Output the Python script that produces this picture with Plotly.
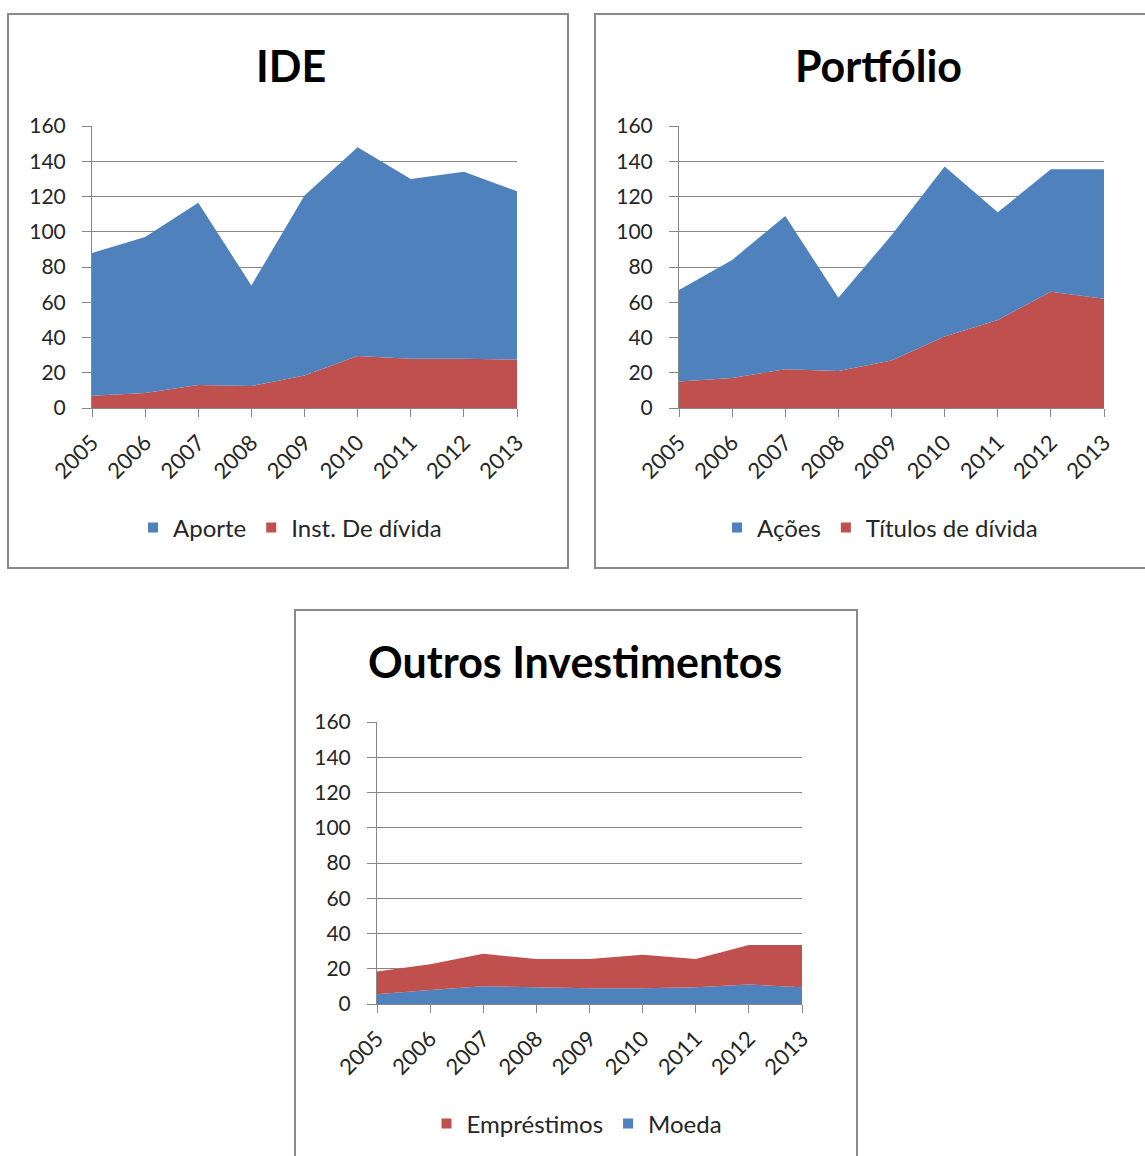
import plotly.graph_objects as go

W, H = 1145, 1156

years = [2005, 2006, 2007, 2008, 2009, 2010, 2011, 2012, 2013]
year_labels = [str(y) for y in years]
y_ticks = [0, 20, 40, 60, 80, 100, 120, 140, 160]

# IDE
ide_inst_divida = [7, 8.5, 13, 12.5, 18.5, 29.5, 28, 28, 27.5]
ide_aporte = [81, 88.5, 103.5, 57, 102, 118.5, 102, 106, 95.5]

# Portfólio
port_titulos = [15, 17, 22, 21, 27, 40.5, 50, 66, 62]
port_acoes = [52, 67, 87, 41.5, 71, 96.5, 61, 69.5, 73.5]

# Outros Investimentos
outros_moeda = [5.5, 8, 10, 9.5, 9, 9, 9.5, 11, 9.5]
outros_emprestimos = [13, 14.5, 18.5, 16, 16.5, 19, 16, 22.5, 24]

BLUE = "#4F81BD"
RED = "#C0504D"
GRID = "#878787"
TXT = "#262626"
FONT = "Lato"

fig = go.Figure()

panels = [
    ("x", "y", "legend", ("Inst. De dívida", ide_inst_divida, RED), ("Aporte", ide_aporte, BLUE)),
    ("x2", "y2", "legend2", ("Títulos de dívida", port_titulos, RED), ("Ações", port_acoes, BLUE)),
    ("x3", "y3", "legend3", ("Moeda", outros_moeda, BLUE), ("Empréstimos", outros_emprestimos, RED)),
]

for xa, ya, lg, bottom, top in panels:
    sg = "s" + xa
    for name, vals, col in (bottom, top):
        fig.add_trace(go.Scatter(
            x=years, y=vals, name=name, stackgroup=sg, mode="none",
            fillcolor=col, xaxis=xa, yaxis=ya, showlegend=False,
            hoverinfo="x+y+name",
        ))
    for name, vals, col in (top, bottom):
        fig.add_trace(go.Scatter(
            x=[None], y=[None], name=name, mode="markers",
            marker=dict(symbol="square", size=10, color=col),
            xaxis=xa, yaxis=ya, legend=lg, showlegend=True,
        ))


def xdom(a, b):
    return [a / W, b / W]


def ydom(top, bottom):
    return [1 - bottom / H, 1 - top / H]


common_x = dict(
    range=[2005, 2013], tickvals=years, ticktext=year_labels, tickangle=-45,
    ticks="outside", ticklen=8, tickcolor=GRID, showline=True, linecolor=GRID,
    linewidth=1, showgrid=False, zeroline=False, automargin=False,
    ticklabelstandoff=4,
    tickfont=dict(family=FONT, size=22, color=TXT), fixedrange=True,
)
common_y = dict(
    range=[0, 160], tickvals=y_ticks, ticks="outside", ticklen=9, tickcolor=GRID,
    showline=True, linecolor=GRID, linewidth=1, showgrid=True, gridcolor=GRID,
    gridwidth=1, zeroline=False, ticklabelstandoff=12, automargin=False,
    tickfont=dict(family=FONT, size=21, color=TXT), fixedrange=True,
)

fig.update_layout(
    width=W, height=H,
    margin=dict(l=0, r=0, t=0, b=0, autoexpand=False),
    paper_bgcolor="white", plot_bgcolor="white",
    xaxis=dict(common_x, domain=xdom(92, 517), anchor="y"),
    yaxis=dict(common_y, domain=ydom(126, 408), anchor="x"),
    xaxis2=dict(common_x, domain=xdom(679, 1104), anchor="y2"),
    yaxis2=dict(common_y, domain=ydom(126, 408), anchor="x2"),
    xaxis3=dict(common_x, domain=xdom(377, 802), anchor="y3"),
    yaxis3=dict(common_y, domain=ydom(722, 1004), anchor="x3"),
    showlegend=True,
)

legend_common = dict(orientation="h", xanchor="center", yanchor="middle",
                     font=dict(family=FONT, size=24, color=TXT),
                     bgcolor="rgba(0,0,0,0)", itemwidth=30, traceorder="normal")
fig.update_layout(
    legend=dict(legend_common, x=290 / W, y=1 - 528 / H),
    legend2=dict(legend_common, x=880 / W, y=1 - 528 / H),
    legend3=dict(legend_common, x=577 / W, y=1 - 1124 / H),
)

# Panel borders
for x0, y0, x1, y1 in [(8, 14, 568, 568), (595, 14, 1150, 568), (295, 610, 857, 1160)]:
    fig.add_shape(type="rect", xref="paper", yref="paper",
                  x0=x0 / W, x1=x1 / W, y0=1 - y1 / H, y1=1 - y0 / H,
                  line=dict(color="#8a8a8a", width=2), fillcolor="rgba(0,0,0,0)",
                  layer="below")

titles = [("IDE", 291, 65), ("Portfólio", 878, 65), ("Outros Investimentos", 575, 661)]
for text, cx, cy in titles:
    fig.add_annotation(text="<b>" + text + "</b>", xref="paper", yref="paper",
                       x=cx / W, y=1 - cy / H, xanchor="center", yanchor="middle",
                       showarrow=False, font=dict(family=FONT, size=43, color="black"))

fig.write_html("out.html")
